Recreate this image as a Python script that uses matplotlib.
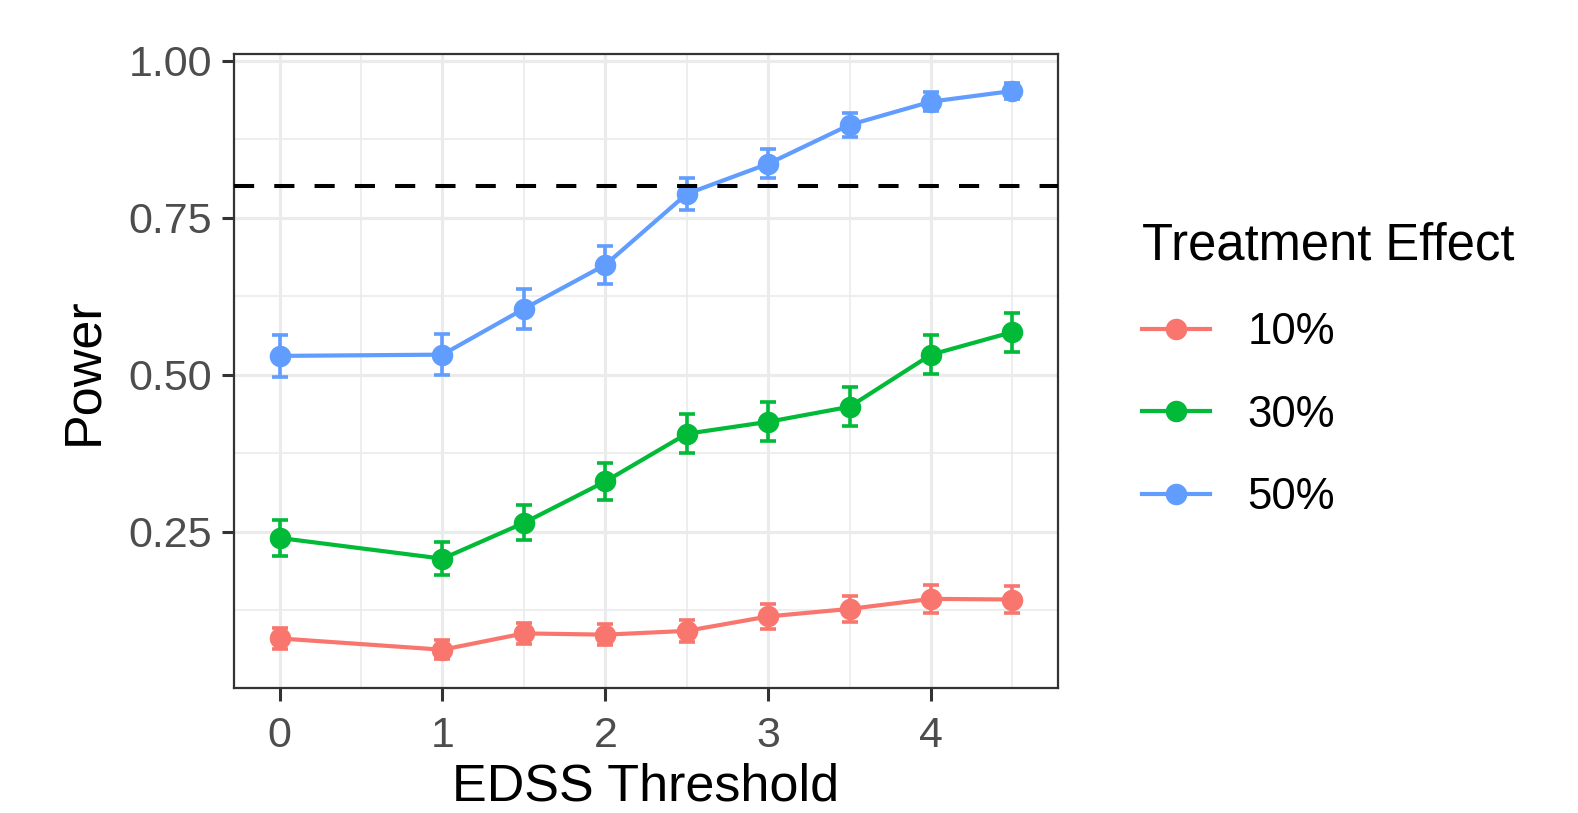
import numpy as np
import matplotlib
matplotlib.use("Agg")
import matplotlib.pyplot as plt

# EDSS thresholds (no run at 0.5)
edss = [0, 1, 1.5, 2, 2.5, 3, 3.5, 4, 4.5]

groups = ["10%", "30%", "50%"]
colores = ["#F8766D", "#00BA38", "#619CFF"]

power_10 = [0.080, 0.062, 0.088, 0.086, 0.092, 0.115, 0.127, 0.143, 0.142]
power_30 = [0.240, 0.207, 0.264, 0.330, 0.406, 0.425, 0.449, 0.532, 0.568]
power_50 = [0.530, 0.532, 0.605, 0.675, 0.788, 0.836, 0.898, 0.935, 0.952]

# half width of the confidence interval for each point
err_10 = [0.017, 0.015, 0.017, 0.017, 0.018, 0.020, 0.021, 0.022, 0.022]
err_30 = [0.029, 0.026, 0.028, 0.030, 0.031, 0.031, 0.031, 0.031, 0.031]
err_50 = [0.033, 0.033, 0.032, 0.030, 0.026, 0.023, 0.019, 0.015, 0.013]

target = 0.80

potencias = [power_10, power_30, power_50]
errores = [err_10, err_30, err_50]

plt.rcParams['font.family'] = ['Liberation Sans', 'DejaVu Sans']

fig = plt.figure(figsize=(15.78, 8.13), dpi=100)
ax = fig.add_axes([0.1483, 0.1538, 0.5222, 0.7798])

for lab, col, p, e in zip(groups, colores, potencias, errores):
    ax.errorbar(edss, p, yerr=e, fmt='none', ecolor=col, elinewidth=2.6,
                capsize=5.5, capthick=2.6, zorder=3)
    ax.plot(edss, p, color=col, lw=3.0, marker='o', ms=15.5,
            markeredgewidth=0, label=lab, zorder=4)

ax.axhline(target, color='black', lw=2.9, dashes=(5, 5), zorder=5)

# ggplot-like expansion of the limits
todos_p = np.concatenate(potencias)
todos_e = np.concatenate(errores)
lo = (todos_p - todos_e).min()
hi = (todos_p + todos_e).max()
rng = hi - lo
ax.set_ylim(lo - 0.05 * rng, hi + 0.05 * rng)
xl, xh = min(edss) - 0.05, max(edss) + 0.05
ax.set_xlim(xl - 0.05 * (xh - xl), xh + 0.05 * (xh - xl))

ax.set_yticks([0.25, 0.50, 0.75, 1.00])
ax.set_yticklabels(["0.25", "0.50", "0.75", "1.00"])
ax.set_yticks([0.125, 0.375, 0.625, 0.875], minor=True)
ax.set_xticks([0, 1, 2, 3, 4])
ax.set_xticks([0.5, 1.5, 2.5, 3.5, 4.5], minor=True)

ax.grid(True, which='major', color='#EBEBEB', lw=2.3, zorder=0)
ax.grid(True, which='minor', color='#EBEBEB', lw=1.2, zorder=0)
ax.set_axisbelow(True)

for s in ax.spines.values():
    s.set_color('#333333')
    s.set_linewidth(1.6)

ax.tick_params(which='major', length=9, width=2.2, color='#333333',
               labelsize=31, labelcolor='#4D4D4D', pad=7)
ax.tick_params(axis='x', which='major', pad=11)
ax.tick_params(which='minor', length=0)

ax.set_xlabel("EDSS Threshold", fontsize=37.5, labelpad=5)
ax.set_ylabel("Power", fontsize=37.5, labelpad=14)

leg = fig.legend(loc='upper left', bbox_to_anchor=(0.699, 0.776), frameon=False,
                 title="Treatment Effect", title_fontsize=36.5, fontsize=31.5,
                 handlelength=1.55, handletextpad=0.85, labelspacing=0.95,
                 alignment='left')

fig.savefig("out.png", dpi=100)
